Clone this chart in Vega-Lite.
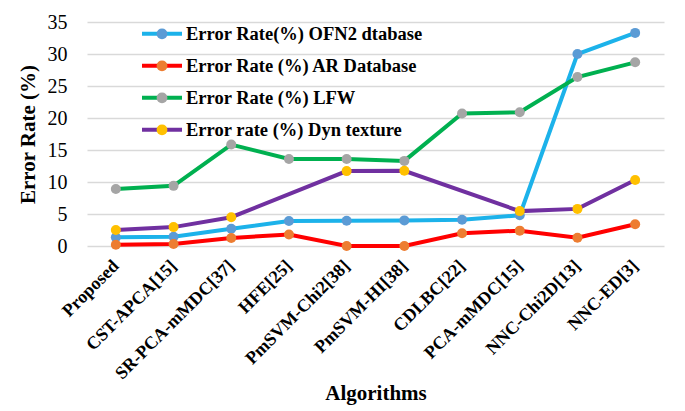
{
  "$schema": "https://vega.github.io/schema/vega-lite/v6.json",
  "width": 577,
  "height": 224,
  "autosize": {"type": "none"},
  "padding": {"left": 87, "top": 22, "right": 21, "bottom": 165},
  "background": "white",
  "config": {
    "font": "Liberation Serif",
    "view": {"stroke": null},
    "legend": {"padding": 0}
  },
  "data": {
    "values": [
      {"algorithm": "Proposed", "series": "Error Rate(%) OFN2 dtabase", "value": 1.35},
      {"algorithm": "CST-APCA[15]", "series": "Error Rate(%) OFN2 dtabase", "value": 1.45},
      {"algorithm": "SR-PCA-mMDC[37]", "series": "Error Rate(%) OFN2 dtabase", "value": 2.7},
      {"algorithm": "HFE[25]", "series": "Error Rate(%) OFN2 dtabase", "value": 3.9},
      {"algorithm": "PmSVM-Chi2[38]", "series": "Error Rate(%) OFN2 dtabase", "value": 3.95},
      {"algorithm": "PmSVM-HI[38]", "series": "Error Rate(%) OFN2 dtabase", "value": 4.0},
      {"algorithm": "CDLBC[22]", "series": "Error Rate(%) OFN2 dtabase", "value": 4.1},
      {"algorithm": "PCA-mMDC[15]", "series": "Error Rate(%) OFN2 dtabase", "value": 4.8},
      {"algorithm": "NNC-Chi2D[13]", "series": "Error Rate(%) OFN2 dtabase", "value": 30.0},
      {"algorithm": "NNC-ED[3]", "series": "Error Rate(%) OFN2 dtabase", "value": 33.3},
      {"algorithm": "Proposed", "series": " Error Rate (%) AR Database", "value": 0.2},
      {"algorithm": "CST-APCA[15]", "series": " Error Rate (%) AR Database", "value": 0.3},
      {"algorithm": "SR-PCA-mMDC[37]", "series": " Error Rate (%) AR Database", "value": 1.25},
      {"algorithm": "HFE[25]", "series": " Error Rate (%) AR Database", "value": 1.8},
      {"algorithm": "PmSVM-Chi2[38]", "series": " Error Rate (%) AR Database", "value": 0},
      {"algorithm": "PmSVM-HI[38]", "series": " Error Rate (%) AR Database", "value": 0},
      {"algorithm": "CDLBC[22]", "series": " Error Rate (%) AR Database", "value": 2.0},
      {"algorithm": "PCA-mMDC[15]", "series": " Error Rate (%) AR Database", "value": 2.4},
      {"algorithm": "NNC-Chi2D[13]", "series": " Error Rate (%) AR Database", "value": 1.3},
      {"algorithm": "NNC-ED[3]", "series": " Error Rate (%) AR Database", "value": 3.4},
      {"algorithm": "Proposed", "series": "Error Rate (%) LFW", "value": 8.9},
      {"algorithm": "CST-APCA[15]", "series": "Error Rate (%) LFW", "value": 9.4},
      {"algorithm": "SR-PCA-mMDC[37]", "series": "Error Rate (%) LFW", "value": 15.85},
      {"algorithm": "HFE[25]", "series": "Error Rate (%) LFW", "value": 13.6},
      {"algorithm": "PmSVM-Chi2[38]", "series": "Error Rate (%) LFW", "value": 13.6},
      {"algorithm": "PmSVM-HI[38]", "series": "Error Rate (%) LFW", "value": 13.3},
      {"algorithm": "CDLBC[22]", "series": "Error Rate (%) LFW", "value": 20.7},
      {"algorithm": "PCA-mMDC[15]", "series": "Error Rate (%) LFW", "value": 20.9},
      {"algorithm": "NNC-Chi2D[13]", "series": "Error Rate (%) LFW", "value": 26.4},
      {"algorithm": "NNC-ED[3]", "series": "Error Rate (%) LFW", "value": 28.7},
      {"algorithm": "Proposed", "series": "Error rate (%) Dyn texture", "value": 2.5},
      {"algorithm": "CST-APCA[15]", "series": "Error rate (%) Dyn texture", "value": 2.95},
      {"algorithm": "SR-PCA-mMDC[37]", "series": "Error rate (%) Dyn texture", "value": 4.5},
      {"algorithm": "PmSVM-Chi2[38]", "series": "Error rate (%) Dyn texture", "value": 11.7},
      {"algorithm": "PmSVM-HI[38]", "series": "Error rate (%) Dyn texture", "value": 11.75},
      {"algorithm": "PCA-mMDC[15]", "series": "Error rate (%) Dyn texture", "value": 5.45},
      {"algorithm": "NNC-Chi2D[13]", "series": "Error rate (%) Dyn texture", "value": 5.8},
      {"algorithm": "NNC-ED[3]", "series": "Error rate (%) Dyn texture", "value": 10.3}
    ]
  },
  "encoding": {
    "x": {
      "field": "algorithm",
      "type": "nominal",
      "sort": ["Proposed", "CST-APCA[15]", "SR-PCA-mMDC[37]", "HFE[25]", "PmSVM-Chi2[38]", "PmSVM-HI[38]", "CDLBC[22]", "PCA-mMDC[15]", "NNC-Chi2D[13]", "NNC-ED[3]"],
      "scale": {"type": "point", "padding": 0.5},
      "axis": {
        "title": "Algorithms",
        "titleFont": "Liberation Serif",
        "titleFontSize": 21,
        "titleFontWeight": "bold",
        "titleColor": "black",
        "titleY": 147,
        "titleBaseline": "middle",
        "labelAngle": -45,
        "labelAlign": "right",
        "labelBaseline": "middle",
        "labelPadding": 17,
        "labelFont": "Liberation Serif",
        "labelFontSize": 18,
        "labelFontWeight": "bold",
        "labelColor": "black",
        "labelLimit": 0,
        "domain": false,
        "ticks": false,
        "grid": false
      }
    },
    "y": {
      "field": "value",
      "type": "quantitative",
      "scale": {"domain": [0, 35], "nice": false},
      "axis": {
        "title": "Error Rate (%)",
        "titleFont": "Liberation Serif",
        "titleFontSize": 21,
        "titleFontWeight": "bold",
        "titleColor": "black",
        "titleAngle": -90,
        "titleX": -59,
        "titleY": 112,
        "titleAlign": "center",
        "titleBaseline": "middle",
        "values": [0, 5, 10, 15, 20, 25, 30, 35],
        "labelFont": "Liberation Serif",
        "labelFontSize": 20,
        "labelColor": "black",
        "labelPadding": 20,
        "domain": false,
        "ticks": false,
        "grid": true,
        "gridColor": "#d9d9d9",
        "gridWidth": 1.3
      }
    }
  },
  "layer": [
    {
      "mark": {"type": "line", "strokeWidth": 4},
      "encoding": {
        "color": {
          "field": "series",
          "type": "nominal",
          "scale": {
            "domain": ["Error Rate(%) OFN2 dtabase", " Error Rate (%) AR Database", "Error Rate (%) LFW", "Error rate (%) Dyn texture"],
            "range": ["#1cb2ea", "#ff0000", "#00b050", "#7030a0"]
          },
          "legend": {
            "title": null,
            "orient": "none",
            "legendX": 53,
            "legendY": -4,
            "clipHeight": 31.7,
            "symbolType": "M -1 0 L 1 0",
            "symbolSize": 1600,
            "symbolStrokeWidth": 4,
            "rowPadding": 0,
            "labelOffset": 2,
            "labelFont": "Liberation Serif",
            "labelFontSize": 18.5,
            "labelFontWeight": "bold",
            "labelColor": "black",
            "labelLimit": 0
          }
        }
      }
    },
    {
      "mark": {"type": "circle", "size": 100, "opacity": 1},
      "encoding": {
        "fill": {
          "field": "series",
          "type": "nominal",
          "scale": {
            "domain": ["Error rate (%) Dyn texture", "Error Rate (%) LFW", " Error Rate (%) AR Database", "Error Rate(%) OFN2 dtabase"],
            "range": ["#ffc000", "#a5a5a5", "#ed7d31", "#5b9bd5"]
          },
          "legend": {
            "title": null,
            "orient": "none",
            "legendX": 53,
            "legendY": -4,
            "clipHeight": 31.7,
            "values": ["Error Rate(%) OFN2 dtabase", " Error Rate (%) AR Database", "Error Rate (%) LFW", "Error rate (%) Dyn texture"],
            "symbolType": "M 0.27 0 L 0.2494 0.1033 L 0.1909 0.1909 L 0.1033 0.2494 L 0 0.27 L -0.1033 0.2494 L -0.1909 0.1909 L -0.2494 0.1033 L -0.27 0 L -0.2494 -0.1033 L -0.1909 -0.1909 L -0.1033 -0.2494 L 0 -0.27 L 0.1033 -0.2494 L 0.1909 -0.1909 L 0.2494 -0.1033 Z",
            "symbolSize": 1600,
            "symbolStrokeWidth": 4,
            "symbolStrokeColor": "transparent",
            "symbolOpacity": 1,
            "rowPadding": 0,
            "labelOffset": 2,
            "labelFont": "Liberation Serif",
            "labelFontSize": 18.5,
            "labelFontWeight": "bold",
            "labelColor": "black",
            "labelOpacity": 0,
            "labelLimit": 0
          }
        }
      }
    }
  ]
}
